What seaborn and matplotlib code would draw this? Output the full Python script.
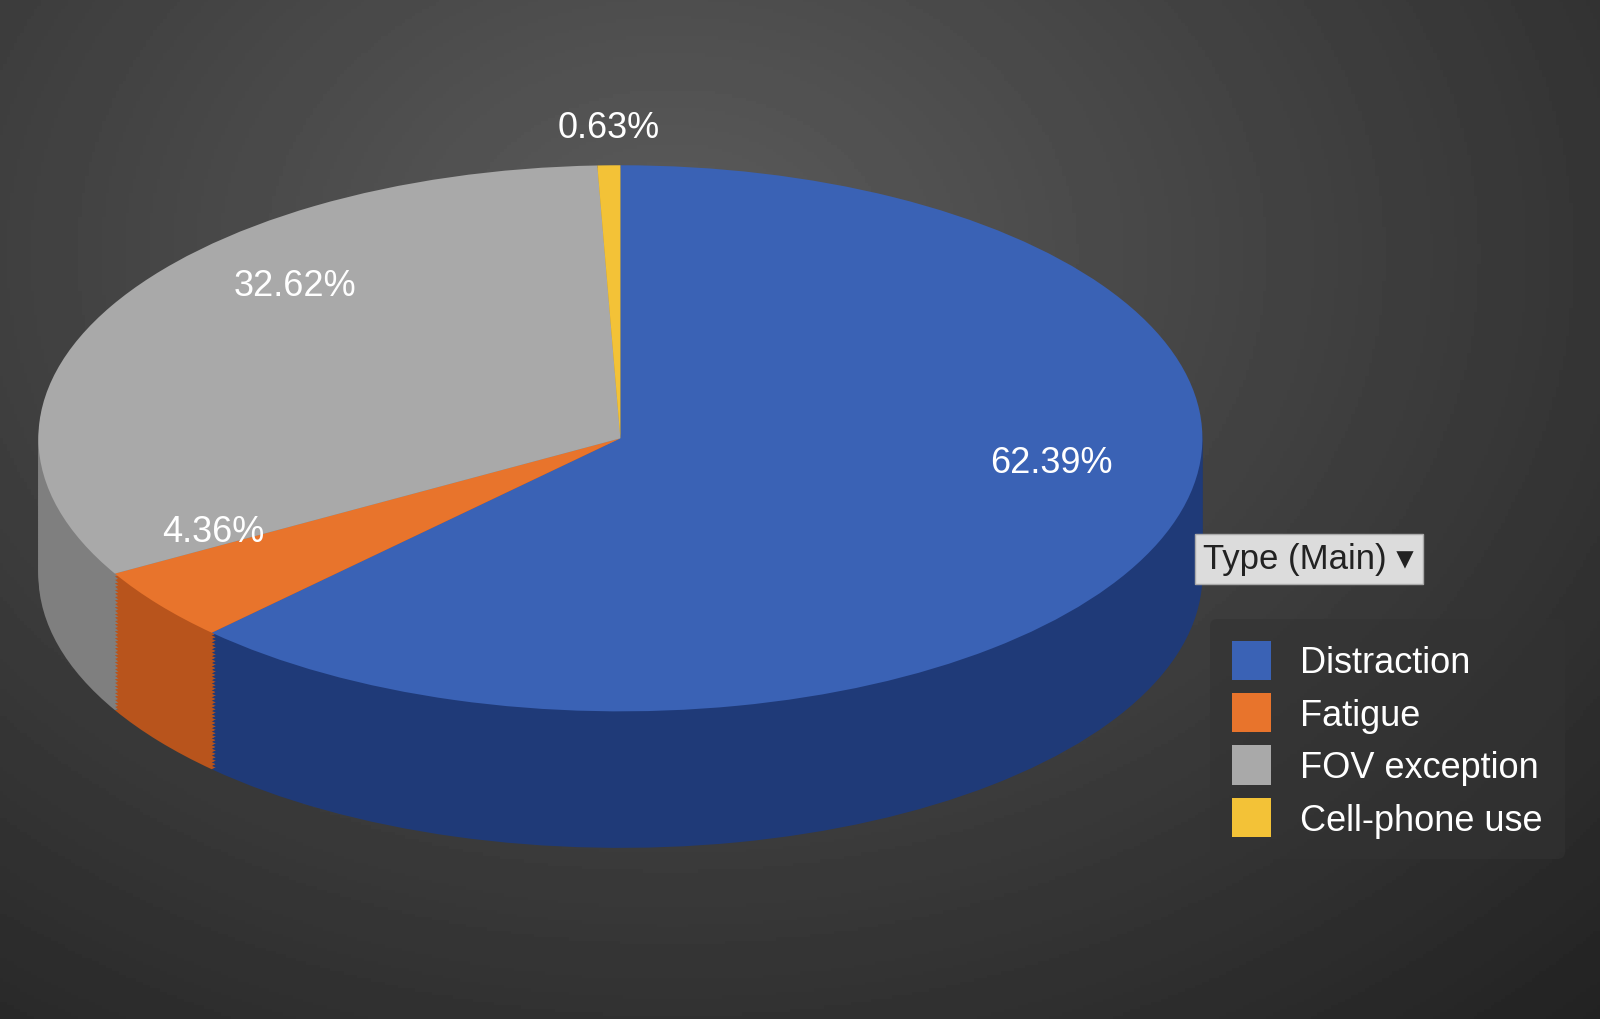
import numpy as np
import matplotlib.pyplot as plt
import seaborn as sns
from matplotlib.patches import Patch

categories = ['Distraction', 'Fatigue', 'FOV exception', 'Cell-phone use']
shares = [62.39, 4.36, 32.62, 0.63]
top_colors = ['#3a62b5', '#e8742c', '#a9a9a9', '#f3c237']
side_colors = ['#1f3a78', '#b8541c', '#7f7f7f', '#c89a20']
# where each percentage label sits, in pie units
label_pos = [(0.74, -0.09), (-0.70, -0.34), (-0.56, 0.56), (-0.02, 1.14)]

sns.set_theme(style='white')
plt.rcParams['font.family'] = ['Liberation Sans', 'DejaVu Sans']

fig = plt.figure(figsize=(16, 10.2), dpi=100)

# background gradient
bg = fig.add_axes([0, 0, 1, 1])
yy, xx = np.mgrid[0:1:300j, 0:1:470j]
r = np.sqrt(((xx - 0.42) * 1.2) ** 2 + ((yy - 0.25) * 1.0) ** 2)
bg.imshow(0.36 - 0.22 * r, cmap='gray', vmin=0, vmax=1, aspect='auto',
          extent=[0, 1, 0, 1], origin='upper')
bg.axis('off')

ax = fig.add_axes([0.024, 0.141, 0.7275, 0.696])
depth = 0.5
for d in np.linspace(depth, 0.01, 40):
    ax.pie(shares, colors=side_colors, startangle=90, counterclock=False,
           center=(0, -d), radius=1, wedgeprops=dict(linewidth=0))
wedges, texts, autotexts = ax.pie(
    shares, colors=top_colors, startangle=90, counterclock=False,
    radius=1, autopct='%.2f%%', pctdistance=0.75,
    wedgeprops=dict(linewidth=0),
    textprops=dict(color='white', fontsize=26))
for t, p in zip(autotexts, label_pos):
    t.set_position(p)
ax.set_aspect('auto')
ax.set_xlim(-1, 1)
ax.set_ylim(-1.6, 1.0)
ax.axis('off')

fig.text(0.752, 0.451, 'Type (Main) \u25be', fontsize=25, color='#222222',
         va='center', ha='left',
         bbox=dict(boxstyle='square,pad=0.25', fc='#dcdcdc', ec='#aaaaaa'))

handles = [Patch(facecolor=c, edgecolor='none') for c in top_colors]
leg = fig.legend(handles, categories, loc='upper left',
                 bbox_to_anchor=(0.745, 0.41), frameon=True, fontsize=26,
                 labelcolor='white', handlelength=1.1, handleheight=1.3,
                 handletextpad=0.8, labelspacing=0.35, borderpad=0.6)
leg.get_frame().set_facecolor('#333333')
leg.get_frame().set_alpha(0.6)
leg.get_frame().set_edgecolor('none')

plt.savefig('out.png', dpi=100)
plt.close()
